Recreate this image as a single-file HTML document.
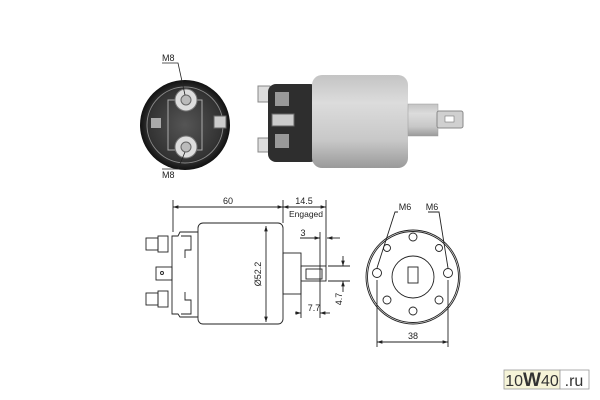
<!DOCTYPE html>
<html><head><meta charset="utf-8"><style>
html,body{margin:0;padding:0;background:#fff;width:600px;height:400px;overflow:hidden}
svg{display:block}
text{font-family:"Liberation Sans",sans-serif;fill:#222}
</style></head><body>
<svg width="600" height="400" viewBox="0 0 600 400" xmlns="http://www.w3.org/2000/svg">
<defs>
<linearGradient id="cyl" x1="0" y1="0" x2="0" y2="1">
<stop offset="0" stop-color="#c4c4c4"/><stop offset="0.3" stop-color="#dcdcdc"/><stop offset="0.7" stop-color="#c8c8c8"/><stop offset="1" stop-color="#9a9a9a"/></linearGradient>
<radialGradient id="cap" cx="0.5" cy="0.5" r="0.5"><stop offset="0" stop-color="#555"/><stop offset="0.8" stop-color="#333"/><stop offset="1" stop-color="#111"/></radialGradient>
<marker id="a" markerWidth="6" markerHeight="6" refX="6" refY="3" orient="auto-start-reverse"><path d="M0,1 L6,3 L0,5z" fill="#222"/></marker>
</defs>
<circle cx="185" cy="125" r="45" fill="url(#cap)"/>
<circle cx="185" cy="125" r="38" fill="none" stroke="#888" stroke-width="1"/>
<rect x="168" y="100" width="34" height="50" fill="none" stroke="#aaa"/>
<circle cx="186" cy="100" r="11" fill="#ddd" stroke="#777"/><circle cx="186" cy="100" r="5" fill="#bbb" stroke="#666"/>
<circle cx="186" cy="147" r="11" fill="#ddd" stroke="#777"/><circle cx="186" cy="147" r="5" fill="#bbb" stroke="#666"/>
<rect x="214" y="116" width="12" height="12" fill="#ccc" stroke="#666"/>
<rect x="151" y="118" width="10" height="10" fill="#aaa"/>
<text x="162" y="61" font-size="9">M8</text>
<path d="M162,63 L178,63 L185,95" fill="none" stroke="#222" stroke-width="0.8"/>
<text x="162" y="178" font-size="9">M8</text>
<path d="M162,169 L178,169 L185,152" fill="none" stroke="#222" stroke-width="0.8"/>
<rect x="258" y="86" width="12" height="16" fill="#ddd" stroke="#888"/>
<rect x="258" y="138" width="12" height="14" fill="#ddd" stroke="#888"/>
<rect x="268" y="84" width="50" height="78" rx="8" fill="#2e2e2e"/>
<rect x="272" y="114" width="22" height="12" fill="#ccc" stroke="#666"/>
<rect x="275" y="92" width="14" height="14" fill="#999"/>
<rect x="275" y="134" width="14" height="14" fill="#999"/>
<rect x="312" y="75" width="96" height="93" rx="10" fill="url(#cyl)"/>
<rect x="408" y="104" width="30" height="32" fill="url(#cyl)" stroke="#999" stroke-width="0.5"/>
<rect x="437" y="111" width="26" height="17" rx="2" fill="#d0d0d0" stroke="#888"/>
<rect x="445" y="116" width="9" height="6" fill="#fff" stroke="#777" stroke-width="0.6"/>
<g fill="none" stroke="#222" stroke-width="0.9">
<line x1="173" y1="200" x2="173" y2="232"/><line x1="283" y1="200" x2="283" y2="223"/><line x1="326" y1="200" x2="326" y2="266"/>
<line x1="173" y1="207" x2="283" y2="207" marker-start="url(#a)" marker-end="url(#a)"/>
<line x1="283" y1="207" x2="326" y2="207" marker-start="url(#a)" marker-end="url(#a)"/>
<rect x="198" y="223" width="85" height="101" rx="5"/>
<path d="M198,232 L180,232 L178,236 L172,236 L172,314 L178,314 L180,317 L198,317"/>
<path d="M181,236 h10 v14 h-6 v8 M181,314 h10 v-14 h-6 v-8"/>
<rect x="156" y="267" width="16" height="13"/><circle cx="162" cy="273" r="1.5"/>
<rect x="146" y="238" width="12" height="12"/><rect x="158" y="236" width="10" height="16"/>
<rect x="146" y="293" width="12" height="12"/><rect x="158" y="291" width="10" height="16"/>
<line x1="266" y1="226" x2="266" y2="322" marker-start="url(#a)" marker-end="url(#a)"/>
<rect x="283" y="253" width="18" height="41"/>
<rect x="301" y="266" width="25" height="15"/>
<rect x="306" y="269" width="16" height="10"/>
<line x1="320" y1="232" x2="320" y2="318"/><line x1="301" y1="282" x2="301" y2="318"/>
<line x1="300" y1="238" x2="320" y2="238" marker-end="url(#a)"/>
<line x1="340" y1="238" x2="327" y2="238" marker-end="url(#a)"/>
<line x1="328" y1="266" x2="350" y2="266"/><line x1="328" y1="281" x2="350" y2="281"/>
<line x1="343" y1="256" x2="343" y2="266" marker-end="url(#a)"/>
<line x1="343" y1="292" x2="343" y2="281" marker-end="url(#a)"/>
<line x1="295" y1="313" x2="301" y2="313" marker-end="url(#a)"/>
<line x1="330" y1="313" x2="320" y2="313" marker-end="url(#a)"/>
</g>
<text x="228" y="204" font-size="9" text-anchor="middle">60</text>
<text x="304" y="204" font-size="9" text-anchor="middle">14.5</text>
<text x="306" y="217" font-size="8.5" text-anchor="middle">Engaged</text>
<text x="303" y="236" font-size="9" text-anchor="middle">3</text>
<text x="314" y="311" font-size="9" text-anchor="middle">7.7</text>
<text transform="translate(261,274) rotate(-90)" font-size="9" text-anchor="middle">Ø52.2</text>
<text transform="translate(342,299) rotate(-90)" font-size="9" text-anchor="middle">4.7</text>
<g fill="none" stroke="#222" stroke-width="0.9">
<circle cx="413" cy="277" r="47"/><circle cx="413" cy="277" r="45.5"/>
<circle cx="413" cy="277" r="21"/>
<rect x="408" y="267" width="10" height="16"/>
<circle cx="413" cy="237" r="4"/><circle cx="413" cy="311" r="4"/>
<circle cx="387" cy="248" r="3.5"/><circle cx="439" cy="248" r="3.5"/>
<circle cx="387" cy="300" r="4"/><circle cx="439" cy="300" r="4"/>
<circle cx="377" cy="273" r="4.5"/><circle cx="448" cy="273" r="4.5"/>
<path d="M398,212 L395,212 L377,268" /><path d="M428,212 L439,212 L448,268"/>
<line x1="377" y1="280" x2="377" y2="347"/><line x1="448" y1="280" x2="448" y2="347"/>
<line x1="377" y1="342" x2="448" y2="342" marker-start="url(#a)" marker-end="url(#a)"/>
</g>
<text x="405" y="210" font-size="9" text-anchor="middle">M6</text>
<text x="432" y="210" font-size="9" text-anchor="middle">M6</text>
<text x="413" y="339" font-size="9" text-anchor="middle">38</text>
<rect x="504" y="370" width="56" height="19" fill="#f6f4d8" stroke="#999" stroke-width="0.8"/>
<rect x="560" y="370" width="29" height="19" fill="#fff" stroke="#999" stroke-width="0.8"/>
<text x="532" y="386" font-size="16" text-anchor="middle" style="fill:#333">10<tspan font-size="19" font-weight="bold">W</tspan>40</text>
<text x="574" y="386" font-size="16" text-anchor="middle" style="fill:#333">.ru</text>
</svg>
</body></html>
